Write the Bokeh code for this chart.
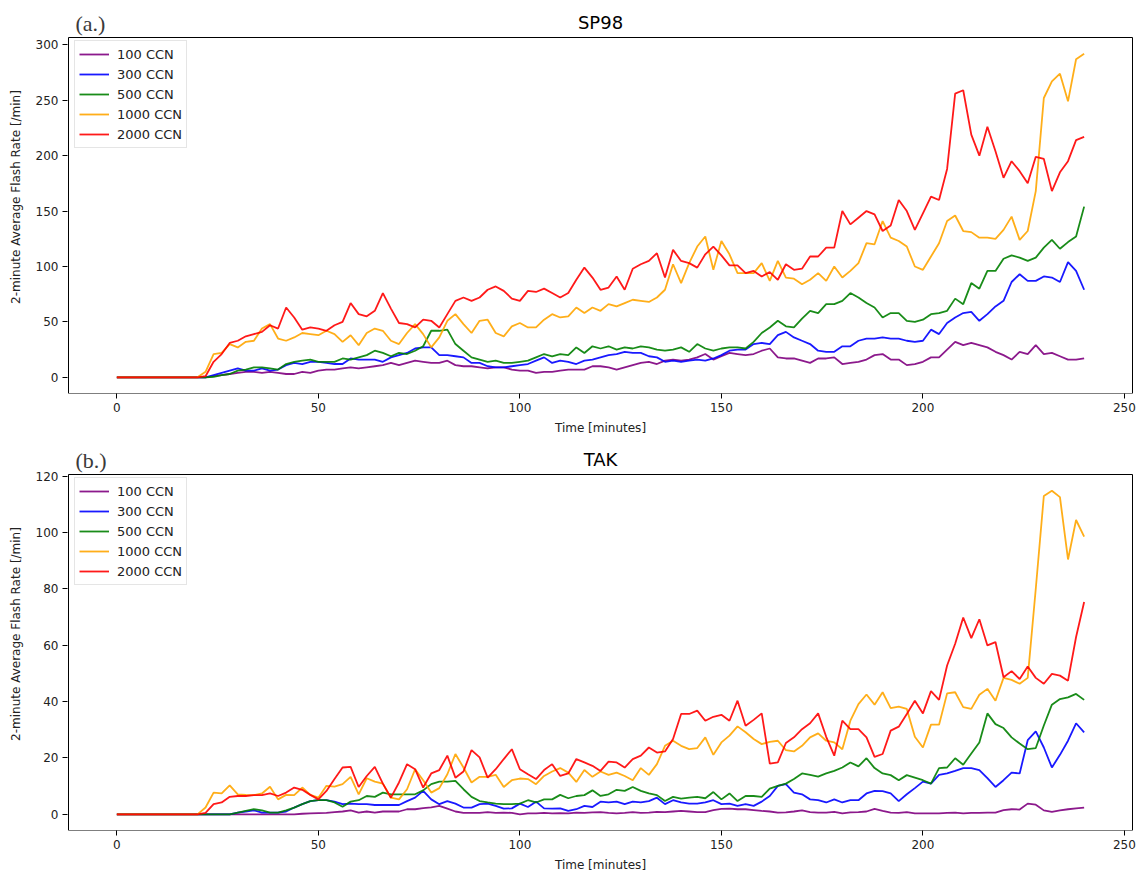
from bokeh.plotting import figure
from bokeh.models import Range1d, FixedTicker, Legend, LegendItem, ColumnDataSource
from bokeh.core.properties import value
from bokeh.layouts import column
from bokeh.embed import file_html
from bokeh.resources import INLINE

# Time axis: 2-minute bins, 0..240 min
TIME = list(range(0, 242, 2))

SERIES = ["100 CCN", "300 CCN", "500 CCN", "1000 CCN", "2000 CCN"]
COLORS = ["purple", "blue", "green", "orange", "red"]

# ---------------- SP98 flash rates [/min] ----------------
SP98_100 = [
    0, 0, 0, 0, 0, 0, 0, 0, 0, 0,
    0, 0, 1, 2, 3, 4, 5, 5, 4, 5,
    4, 3, 3, 5, 4, 6, 7, 7, 8, 9,
    8, 9, 10, 11, 13, 11, 13, 15, 14, 13,
    13, 15, 11, 10, 10, 9, 8, 9, 9, 7,
    6, 6, 4, 5, 5, 6, 7, 7, 7, 10,
    10, 9, 7, 9, 11, 13, 14, 12, 15, 16,
    15, 16, 18, 21, 16, 19, 22, 21, 20, 21,
    24, 26, 18, 17, 17, 15, 13, 17, 17, 18,
    12, 13, 14, 16, 20, 21, 16, 16, 11, 12,
    14, 18, 18, 25, 32, 29, 31, 29, 27, 23,
    20, 16, 23, 21, 29, 21, 22, 19, 16, 16,
    17,
]
SP98_300 = [
    0, 0, 0, 0, 0, 0, 0, 0, 0, 0,
    0, 0, 2, 4, 6, 8, 6, 6, 8, 6,
    7, 11, 13, 12, 14, 14, 13, 12, 12, 17,
    16, 16, 16, 14, 18, 20, 22, 26, 27, 27,
    20, 20, 19, 18, 13, 13, 10, 9, 9, 10,
    11, 12, 15, 18, 13, 15, 14, 12, 15, 16,
    18, 20, 21, 23, 22, 22, 19, 18, 14, 15,
    14, 15, 16, 15, 17, 20, 24, 25, 25, 30,
    31, 30, 38, 41, 36, 33, 30, 24, 23, 23,
    28, 28, 33, 35, 35, 36, 35, 35, 33, 32,
    33, 43, 39, 49, 54, 58, 59, 51, 57, 64,
    69, 86, 93, 87, 87, 91, 90, 86, 104, 96,
    79,
]
SP98_500 = [
    0, 0, 0, 0, 0, 0, 0, 0, 0, 0,
    0, 0, 0.5, 2, 3, 6, 7, 9, 9, 8,
    7, 12, 14, 15, 16, 14, 14, 14, 17, 16,
    18, 20, 24, 22, 19, 22, 21, 24, 28, 42,
    42, 43, 30, 24, 18, 16, 14, 15, 13, 13,
    14, 15, 18, 21, 19, 21, 20, 27, 22, 28,
    26, 28, 25, 27, 26, 28, 27, 25, 24, 25,
    27, 23, 30, 26, 24, 26, 27, 27, 26, 32,
    40, 45, 51, 46, 45, 53, 60, 58, 66, 66,
    69, 76, 72, 67, 63, 54, 58, 58, 51, 50,
    52, 57, 58, 60, 71, 66, 85, 80, 96, 96,
    107, 110, 108, 105, 108, 117, 124, 116, 122, 127,
    154,
]
SP98_1000 = [
    0, 0, 0, 0, 0, 0, 0, 0, 0, 0,
    0, 5, 21, 22, 30, 27, 32, 33, 44, 48,
    35, 33, 36, 40, 39, 38, 42, 39, 32, 38,
    29, 40, 44, 42, 33, 30, 40, 48, 39, 27,
    36, 51, 57, 48, 40, 51, 52, 40, 37, 46,
    49, 45, 45, 52, 57, 54, 55, 63, 58, 63,
    60, 66, 64, 67, 70, 69, 68, 72, 79, 102,
    85, 103, 118, 127, 97, 123, 111, 94, 94, 94,
    103, 87, 105, 90, 89, 84, 88, 94, 87, 100,
    90, 96, 103, 121, 120, 141, 126, 123, 118, 100,
    97, 109, 121, 141, 146, 132, 131, 126, 126, 125,
    133, 145, 124, 132, 168, 252, 267, 274, 249, 287,
    292,
]
SP98_2000 = [
    0, 0, 0, 0, 0, 0, 0, 0, 0, 0,
    0, 1, 14, 21, 31, 33, 37, 39, 41, 47,
    44, 63, 54, 43, 45, 44, 42, 47, 50, 67,
    57, 55, 60, 76, 62, 49, 48, 45, 52, 51,
    45, 57, 69, 72, 69, 72, 79, 82, 78, 71,
    69, 78, 77, 80, 76, 72, 76, 88, 99, 90,
    79, 81, 91, 79, 98, 102, 105, 112, 90, 115,
    105, 103, 99, 111, 118, 110, 101, 101, 94, 96,
    91, 95, 88, 102, 97, 98, 109, 109, 117, 117,
    150, 138, 144, 150, 147, 132, 137, 160, 150, 133,
    148, 163, 160, 188, 256, 259, 219, 200, 226, 204,
    180, 195, 186, 175, 199, 197, 168, 185, 195, 214,
    217,
]

# ---------------- TAK flash rates [/min] ----------------
TAK_100 = [
    0, 0, 0, 0, 0, 0, 0, 0, 0, 0,
    0, 0, 0, 0, 0, 0, 0, 0, 0, 0,
    0, 0, 0, 0.2, 0.3, 0.4, 0.5, 0.8, 1.0, 1.4,
    0.6, 1.0, 0.6, 1.0, 1.0, 1.0, 1.8, 1.8, 2.2, 2.5,
    3.0, 2.0, 1.0, 0.5, 0.5, 0.5, 0.8, 0.5, 0.6, 0.5,
    0.0, 0.3, 0.3, 0.5, 0.3, 0.4, 0.3, 0.6, 0.5, 0.7,
    0.8, 0.5, 0.3, 0.5, 0.8, 0.5, 0.6, 0.9, 0.8, 1.0,
    1.2, 1.0, 0.8, 0.8, 1.5, 1.9, 2.0, 1.8, 1.8, 1.5,
    1.2, 1.0, 0.6, 0.7, 1.0, 1.4, 0.8, 0.6, 0.6, 0.9,
    0.3, 0.7, 0.8, 1.0, 1.9, 1.2, 0.6, 0.5, 0.8, 0.3,
    0.3, 0.3, 0.3, 0.5, 0.6, 0.3, 0.5, 0.5, 0.6, 0.6,
    1.5, 1.8, 1.7, 3.8, 3.4, 1.4, 0.9, 1.4, 1.8, 2.1,
    2.4,
]
TAK_300 = [
    0, 0, 0, 0, 0, 0, 0, 0, 0, 0,
    0, 0, 0, 0, 0, 0.6, 1.0, 1.4, 0.6, 0.6,
    0.6, 1.0, 2.4, 3.6, 4.7, 5.0, 5.0, 4.5, 3.6, 3.8,
    3.6, 3.6, 3.3, 3.3, 3.3, 3.3, 4.7, 5.9, 8.3, 5.3,
    3.6, 4.7, 3.8, 2.4, 2.4, 3.6, 3.8, 3.0, 2.0, 2.1,
    3.8, 2.6, 4.5, 2.1, 2.0, 2.1, 1.2, 1.8, 3.0, 2.6,
    4.5, 4.2, 4.5, 3.6, 4.5, 4.2, 4.7, 5.9, 3.6, 5.0,
    4.2, 3.8, 3.8, 4.2, 5.0, 3.6, 3.8, 3.0, 3.6, 3.0,
    4.5, 6.5, 10.1, 10.7, 7.7, 7.1, 5.3, 5.0, 4.2, 5.3,
    4.2, 5.0, 5.0, 7.4, 8.3, 8.2, 7.4, 4.7, 7.1, 9.3,
    11.6, 10.9, 14.0, 14.5, 15.4, 16.4, 16.4, 15.7, 12.8, 9.7,
    12.1, 14.8, 14.5, 26.3, 29.4, 23.7, 16.6, 21.1, 26.1, 32.3,
    29.1,
]
TAK_500 = [
    0, 0, 0, 0, 0, 0, 0, 0, 0, 0,
    0, 0, 0, 0, 0, 0.6, 1.2, 1.8, 1.4, 0.6,
    0.6, 1.4, 2.4, 3.6, 4.7, 5.0, 5.0, 4.2, 2.7, 4.5,
    5.0, 6.5, 6.2, 7.7, 7.1, 7.1, 7.1, 7.1, 8.5, 10.7,
    11.6, 11.6, 11.9, 8.9, 6.2, 4.7, 4.2, 3.8, 3.6, 3.6,
    3.8, 5.0, 4.2, 5.3, 5.3, 6.9, 5.7, 6.5, 6.8, 8.5,
    6.5, 7.1, 8.7, 8.3, 9.7, 8.3, 7.4, 6.8, 4.7, 6.2,
    5.6, 5.9, 6.2, 5.7, 7.9, 5.3, 7.4, 4.7, 6.5, 6.5,
    6.2, 9.1, 10.1, 10.9, 12.5, 14.5, 14.0, 13.4, 14.5, 15.4,
    16.6, 18.4, 17.0, 19.9, 16.4, 14.5, 13.9, 12.1, 13.9, 13.0,
    12.1, 10.9, 16.4, 16.6, 19.9, 17.6, 21.6, 25.5, 35.8, 32.0,
    30.6, 27.3, 25.1, 23.1, 23.5, 31.5, 38.9, 40.9, 41.5, 42.7,
    40.6,
]
TAK_1000 = [
    0, 0, 0, 0, 0, 0, 0, 0, 0, 0,
    0, 2.4, 7.7, 7.4, 10.3, 7.1, 6.9, 6.8, 7.4, 9.8,
    5.3, 6.9, 6.8, 9.5, 6.9, 5.9, 10.1, 9.8, 10.7, 13.3,
    7.1, 12.8, 11.6, 10.9, 5.9, 5.3, 8.9, 16.0, 12.1, 7.7,
    9.3, 14.2, 21.4, 16.6, 11.3, 13.3, 13.3, 14.0, 9.7, 12.1,
    12.7, 12.5, 10.7, 13.6, 15.2, 16.4, 14.8, 11.5, 15.7, 13.3,
    15.2, 14.0, 14.8, 13.6, 12.1, 16.4, 14.0, 17.8, 24.3, 26.1,
    24.3, 23.1, 23.5, 27.3, 21.1, 25.5, 27.9, 31.2, 29.1, 26.7,
    24.9, 25.7, 26.1, 22.8, 22.3, 24.3, 27.3, 28.7, 26.1, 25.5,
    23.1, 33.2, 39.1, 42.5, 38.9, 43.3, 37.7, 38.2, 37.4, 27.5,
    23.7, 31.8, 31.8, 42.9, 43.3, 38.0, 37.4, 42.4, 44.5, 40.3,
    48.4, 47.7, 46.3, 48.4, 80.0, 112.9, 114.8, 112.5, 90.4, 104.4,
    98.5,
]
TAK_2000 = [
    0, 0, 0, 0, 0, 0, 0, 0, 0, 0,
    0, 0.5, 3.6, 4.2, 6.2, 6.5, 6.5, 6.8, 6.8, 7.4,
    6.5, 7.7, 9.5, 8.7, 6.9, 5.3, 8.3, 12.5, 16.6, 16.8,
    9.7, 13.6, 16.8, 10.9, 5.9, 11.3, 17.8, 16.0, 9.5, 14.5,
    15.7, 20.8, 13.0, 15.2, 22.8, 20.2, 13.0, 16.0, 19.6, 23.1,
    16.0, 14.2, 12.5, 15.7, 17.8, 13.6, 14.5, 19.6, 18.4, 17.2,
    15.4, 18.7, 18.4, 16.6, 19.6, 20.8, 23.7, 21.9, 22.3, 26.7,
    35.6, 35.6, 36.8, 33.2, 34.6, 35.3, 33.2, 40.3, 31.4, 33.5,
    35.8, 18.0, 18.4, 25.3, 27.3, 30.2, 32.3, 35.8, 27.5, 20.8,
    33.2, 30.2, 30.2, 27.3, 20.4, 21.4, 29.7, 31.1, 35.6, 40.3,
    35.8, 43.7, 40.6, 52.8, 60.5, 69.8, 62.5, 69.2, 59.9, 61.1,
    48.6, 50.8, 48.0, 52.4, 48.4, 46.3, 49.8, 49.2, 47.4, 62.9,
    75.3,
]

X_TICKS = [0, 50, 100, 150, 200, 250]
SP98_Y_TICKS = [0, 50, 100, 150, 200, 250, 300]
TAK_Y_TICKS = [0, 20, 40, 60, 80, 100, 120]

FONT = "DejaVu Sans"
BOX_W = 1064      # width of the axes box in px
BOX_H = 356       # height of the axes box in px
HEAD_H = 37       # strip above the box holding tag and title
PAD = 1           # spare pixel on each side so the box edges are not clipped
BORDER_L = 68 - PAD
BORDER_R = 6 - PAD


def padded(lo, hi, frac=0.05):
    span = hi - lo
    return lo - frac * span, hi + frac * span


def make_panel(tag, title, series, y_ticks):
    ymax = max(max(s) for s in series)
    y0, y1 = padded(0, ymax)
    x0, x1 = padded(0, TIME[-1])
    ux = (x1 - x0) / BOX_W          # data units per pixel
    uy = (y1 - y0) / BOX_H

    p = figure(
        frame_width=BOX_W + 2 * PAD, frame_height=BOX_H + HEAD_H,
        x_range=Range1d(x0 - PAD * ux, x1 + PAD * ux),
        y_range=Range1d(y0, y1 + HEAD_H * uy),
        output_backend="svg", toolbar_location=None,
        min_border_left=BORDER_L, min_border_right=BORDER_R,
        min_border_top=0, min_border_bottom=42,
    )
    p.xgrid.visible = False
    p.ygrid.visible = False
    p.outline_line_color = None
    p.background_fill_color = "white"
    p.border_fill_color = "white"

    for ax, ticks in ((p.xaxis, X_TICKS), (p.yaxis, y_ticks)):
        ax.ticker = FixedTicker(ticks=ticks)
        ax.minor_tick_line_color = None
        ax.major_tick_in = 0
        ax.major_tick_out = 5
        ax.major_tick_line_color = "black"
        ax.major_label_text_font = FONT
        ax.major_label_text_font_size = "12px"
        ax.major_label_text_color = "#222222"
        ax.major_label_standoff = 4
        ax.axis_label_text_font = FONT
        ax.axis_label_text_font_size = "12px"
        ax.axis_label_text_font_style = "normal"
        ax.axis_label_text_color = "#222222"
    p.xaxis.axis_line_color = None
    p.yaxis.axis_line_color = None

    p.xaxis.axis_label = "Time [minutes]"
    p.xaxis.axis_label_standoff = 6
    p.yaxis.axis_label = "2-minute Average Flash Rate [/min]"
    p.yaxis.axis_label_standoff = 10

    # axes box (spines)
    p.quad(left=[x0], right=[x1], bottom=[y0], top=[y1],
           fill_color=None, line_color="black", line_width=1)

    items = []
    for name, color, vals in zip(SERIES, COLORS, series):
        src = ColumnDataSource(data=dict(t=TIME, v=vals))
        r = p.line("t", "v", source=src, line_color=color,
                   line_width=1.8, line_alpha=0.9)
        items.append(LegendItem(label=name, renderers=[r]))

    legend = Legend(
        items=items, location=(PAD + 6, 245),
        label_text_font=FONT, label_text_font_size="13px",
        label_text_color="#222222",
        border_line_color="#cccccc", border_line_width=1,
        background_fill_color="white", background_fill_alpha=0.8,
        glyph_width=30, glyph_height=18, label_height=18,
        label_standoff=8, spacing=2, padding=4, margin=0,
    )
    p.add_layout(legend)

    # panel title and tag in the strip above the box
    p.text(x=[(x0 + x1) / 2], y=[y1 + 15 * uy], text=[title],
           text_align="center", text_baseline="middle",
           text_font=value(FONT), text_font_size="18px", text_color="black")
    p.text(x=[x0 + 7 * ux], y=[y1 + 14 * uy], text=[tag],
           text_align="left", text_baseline="middle",
           text_font=value("Liberation Serif"), text_font_size="22px",
           text_color="#3a3a3a")
    return p


pa = make_panel("(a.)", "SP98",
                [SP98_100, SP98_300, SP98_500, SP98_1000, SP98_2000],
                SP98_Y_TICKS)
pb = make_panel("(b.)", "TAK",
                [TAK_100, TAK_300, TAK_500, TAK_1000, TAK_2000],
                TAK_Y_TICKS)

layout = column(pa, pb, spacing=0)
open("out.html", "w").write(file_html(layout, INLINE))
